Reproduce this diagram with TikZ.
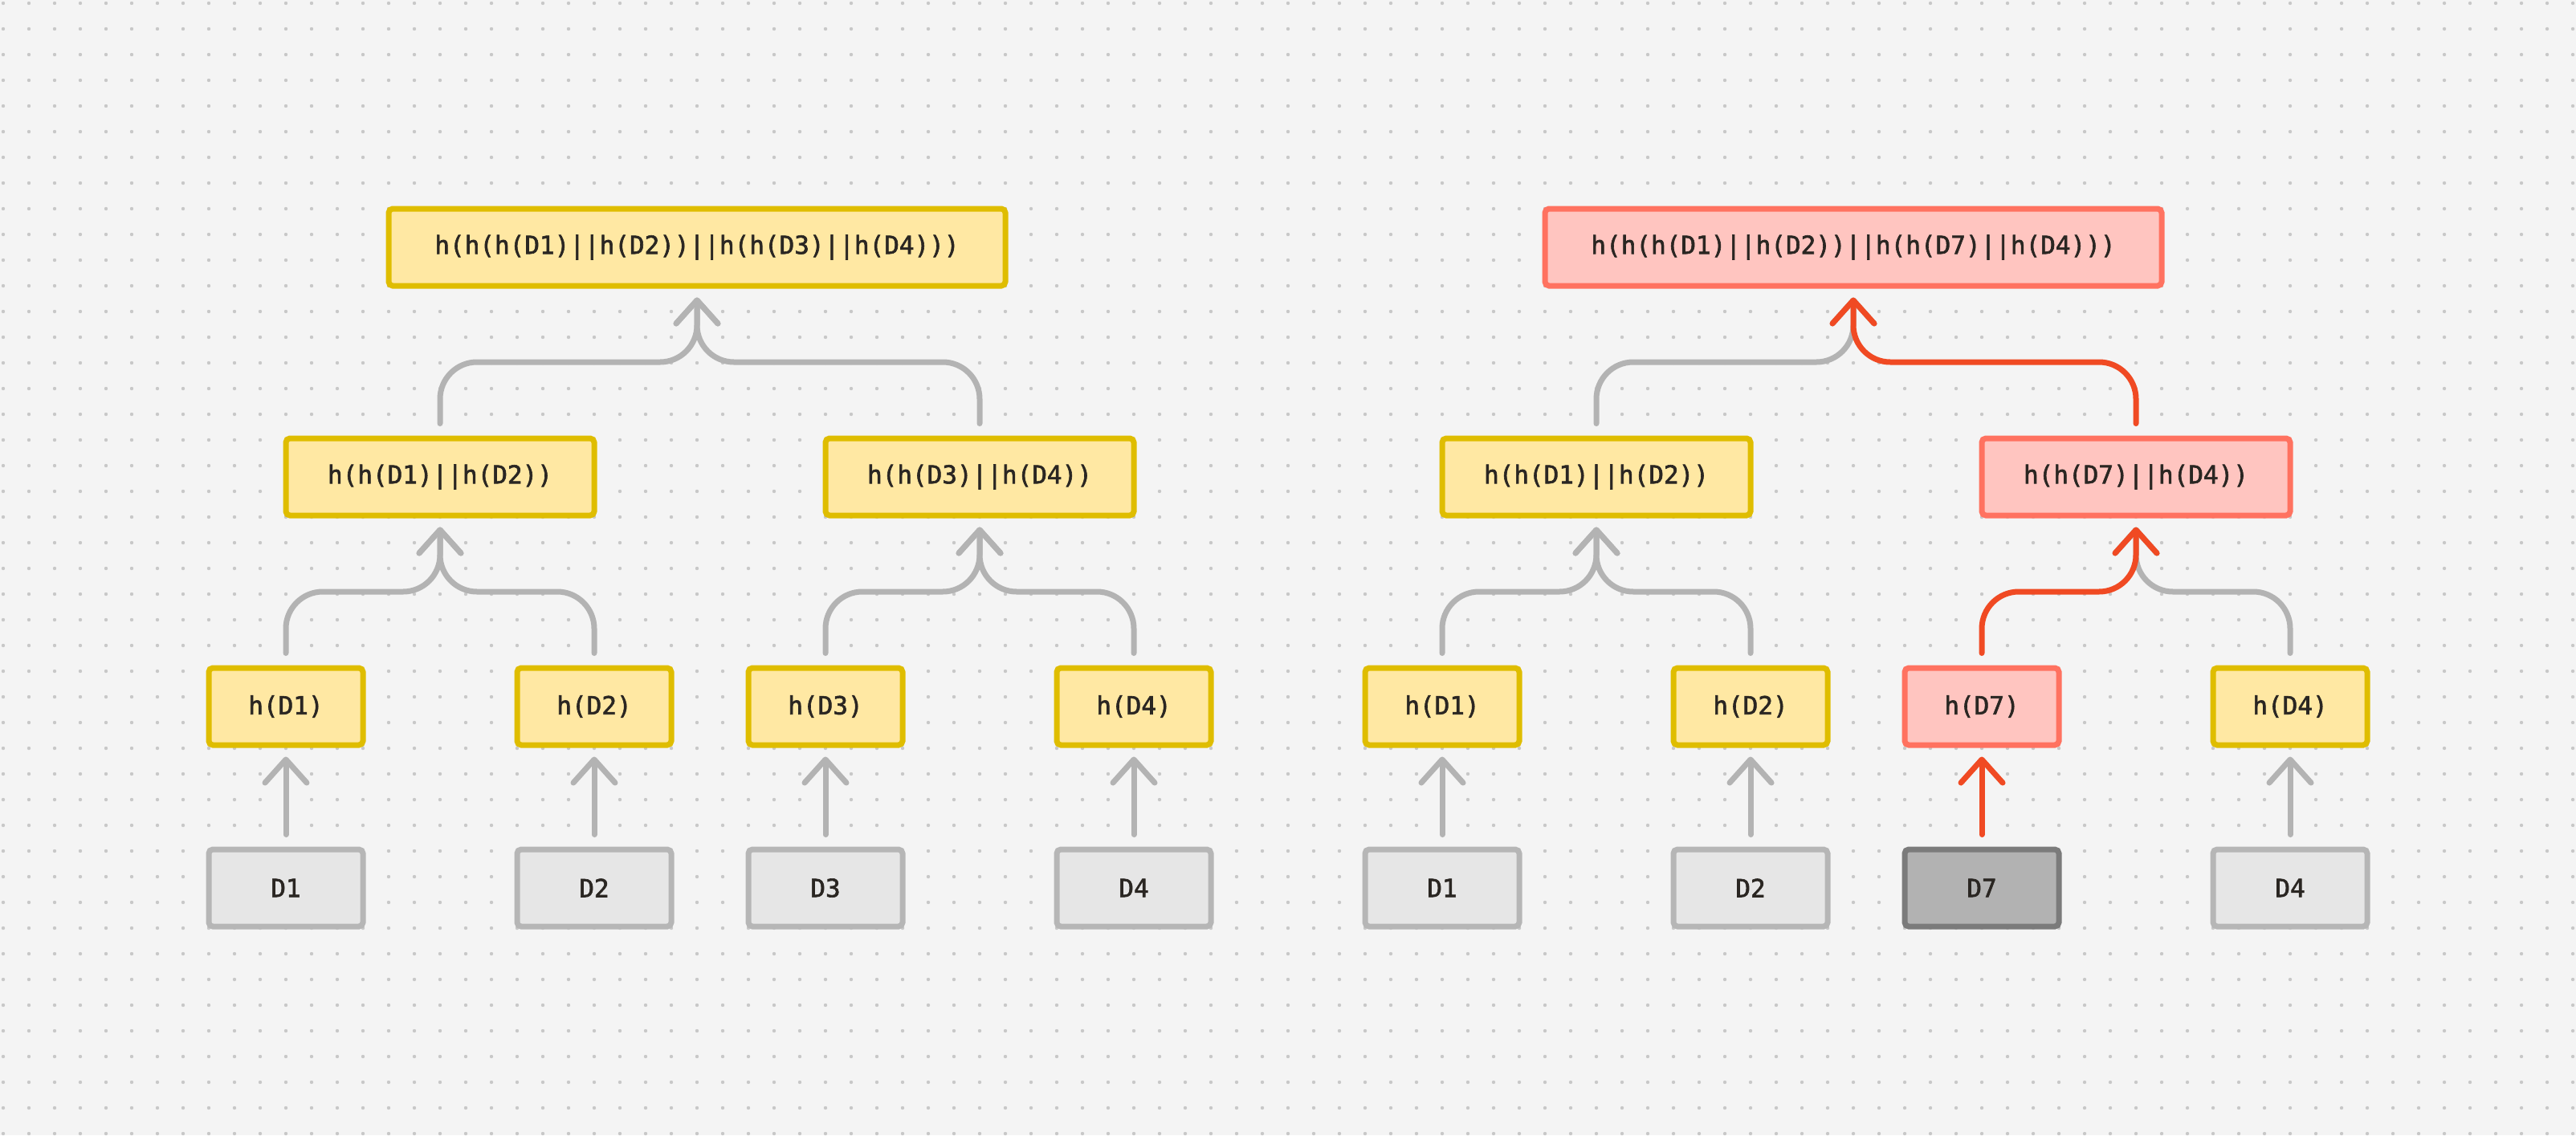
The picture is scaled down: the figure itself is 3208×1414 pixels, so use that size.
\documentclass[tikz,border=0pt]{standalone}
\usepackage{fontspec}
\setmonofont[FakeBold=2]{DejaVu Sans Mono}
\usetikzlibrary{arrows.meta,calc}
\definecolor{bg}{HTML}{F4F4F4}
\definecolor{dotc}{HTML}{C8C8C8}
\definecolor{yfill}{HTML}{FFE8A3}
\definecolor{yline}{HTML}{DFBD00}
\definecolor{rfill}{HTML}{FFC5C0}
\definecolor{rline}{HTML}{FF7260}
\definecolor{rconnc}{HTML}{F04A23}
\definecolor{gconnc}{HTML}{B3B3B3}
\definecolor{gfill}{HTML}{E6E6E6}
\definecolor{gline}{HTML}{B6B6B6}
\definecolor{dfill}{HTML}{B2B2B2}
\definecolor{dline}{HTML}{7B7B7B}
\definecolor{txt}{HTML}{2A2622}
\begin{document}
\begin{tikzpicture}[x=1pt,y=-1pt,
  box/.style={draw, line width=7pt, rounded corners=5pt, minimum width=192pt,
    minimum height=96pt, inner sep=0pt, text=txt,
    font=\fontsize{31}{31}\selectfont\ttfamily},
  hashbox/.style={box, fill=yfill, draw=yline},
  redbox/.style={box, fill=rfill, draw=rline},
  databox/.style={box, fill=gfill, draw=gline},
  darkbox/.style={box, fill=dfill, draw=dline},
  widebox/.style={minimum width=384pt},
  topbox/.style={minimum width=768pt},
  conn/.style={draw=gconnc, line width=7pt, line cap=round, line join=round,
    rounded corners=46pt, shorten <=15pt, shorten >=11pt,
    -{Straight Barb[length=29pt,width=52pt,round]}},
  rconn/.style={conn, draw=rconnc}
]
% background and dot grid
\fill[bg] (0,0) rectangle (3208,1414);
\useasboundingbox (0,0) rectangle (3208,1414);
\foreach \i in {0,...,100}{
  \foreach \j in {0,...,44}{
    \fill[dotc] ({4+32*\i},{4+32*\j}) circle (2.2pt);
  }
}
% ---------- left tree ----------
\node[hashbox,topbox] (ltop) at (868,308) {h(h(h(D1)||h(D2))||h(h(D3)||h(D4)))};
\node[hashbox,widebox] (l12) at (548,594) {h(h(D1)||h(D2))};
\node[hashbox,widebox] (l34) at (1220,594) {h(h(D3)||h(D4))};
\node[hashbox] (lh1) at (356,880) {h(D1)};
\node[hashbox] (lh2) at (740,880) {h(D2)};
\node[hashbox] (lh3) at (1028,880) {h(D3)};
\node[hashbox] (lh4) at (1412,880) {h(D4)};
\node[databox] (ld1) at (356,1106) {D1};
\node[databox] (ld2) at (740,1106) {D2};
\node[databox] (ld3) at (1028,1106) {D3};
\node[databox] (ld4) at (1412,1106) {D4};
% ---------- right tree ----------
\node[redbox,topbox] (rtop) at (2308,308) {h(h(h(D1)||h(D2))||h(h(D7)||h(D4)))};
\node[hashbox,widebox] (r12) at (1988,594) {h(h(D1)||h(D2))};
\node[redbox,widebox] (r74) at (2660,594) {h(h(D7)||h(D4))};
\node[hashbox] (rh1) at (1796,880) {h(D1)};
\node[hashbox] (rh2) at (2180,880) {h(D2)};
\node[redbox] (rh7) at (2468,880) {h(D7)};
\node[hashbox] (rh4) at (2852,880) {h(D4)};
\node[databox] (rd1) at (1796,1106) {D1};
\node[databox] (rd2) at (2180,1106) {D2};
\node[darkbox] (rd7) at (2468,1106) {D7};
\node[databox] (rd4) at (2852,1106) {D4};
% mid-lines of the branch connectors
\coordinate (lmA) at ($(lh1.north)!0.5!(l12.south)$);
\coordinate (lmB) at ($(l12.north)!0.5!(ltop.south)$);
\coordinate (rmA) at ($(rh1.north)!0.5!(r12.south)$);
\coordinate (rmB) at ($(r12.north)!0.5!(rtop.south)$);
% ---------- left connectors ----------
\draw[conn] (ld1.north) -- (lh1.south);
\draw[conn] (ld2.north) -- (lh2.south);
\draw[conn] (ld3.north) -- (lh3.south);
\draw[conn] (ld4.north) -- (lh4.south);
\draw[conn] (lh1.north) -- (lh1.north |- lmA) -- (l12.south |- lmA) -- (l12.south);
\draw[conn] (lh2.north) -- (lh2.north |- lmA) -- (l12.south |- lmA) -- (l12.south);
\draw[conn] (lh3.north) -- (lh3.north |- lmA) -- (l34.south |- lmA) -- (l34.south);
\draw[conn] (lh4.north) -- (lh4.north |- lmA) -- (l34.south |- lmA) -- (l34.south);
\draw[conn] (l12.north) -- (l12.north |- lmB) -- (ltop.south |- lmB) -- (ltop.south);
\draw[conn] (l34.north) -- (l34.north |- lmB) -- (ltop.south |- lmB) -- (ltop.south);
% ---------- right connectors ----------
\draw[conn] (rd1.north) -- (rh1.south);
\draw[conn] (rd2.north) -- (rh2.south);
\draw[conn] (rd4.north) -- (rh4.south);
\draw[conn] (rh1.north) -- (rh1.north |- rmA) -- (r12.south |- rmA) -- (r12.south);
\draw[conn] (rh2.north) -- (rh2.north |- rmA) -- (r12.south |- rmA) -- (r12.south);
\draw[conn] (rh4.north) -- (rh4.north |- rmA) -- (r74.south |- rmA) -- (r74.south);
\draw[conn] (r12.north) -- (r12.north |- rmB) -- (rtop.south |- rmB) -- (rtop.south);
\draw[rconn] (rd7.north) -- (rh7.south);
\draw[rconn] (rh7.north) -- (rh7.north |- rmA) -- (r74.south |- rmA) -- (r74.south);
\draw[rconn] (r74.north) -- (r74.north |- rmB) -- (rtop.south |- rmB) -- (rtop.south);
\end{tikzpicture}
\end{document}
